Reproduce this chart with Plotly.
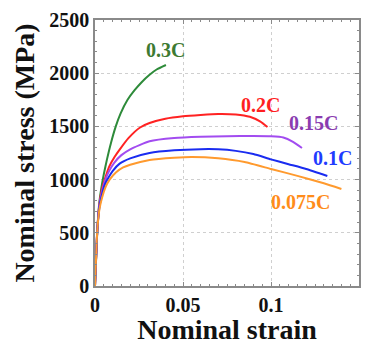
import plotly.graph_objects as go

# ---- data ----
strain_03 = [0, 0.0013, 0.0025, 0.0038, 0.005, 0.0068, 0.009, 0.0118, 0.0145, 0.0185, 0.0225, 0.0265, 0.031, 0.035, 0.0403]
stress_03 = [0, 520, 790, 940, 1050, 1190, 1340, 1500, 1620, 1750, 1840, 1915, 1985, 2035, 2077]

strain_02 = [0, 0.0013, 0.0025, 0.0038, 0.0055, 0.008, 0.011, 0.014, 0.019, 0.0256, 0.031, 0.04, 0.05, 0.06, 0.07, 0.08, 0.088, 0.094, 0.098]
stress_02 = [0, 520, 770, 900, 1000, 1120, 1210, 1282, 1390, 1490, 1532, 1572, 1595, 1608, 1617, 1612, 1590, 1545, 1494]

strain_015 = [0, 0.0013, 0.0025, 0.004, 0.0059, 0.008, 0.011, 0.015, 0.02, 0.031, 0.045, 0.06, 0.075, 0.09, 0.1, 0.107, 0.1125, 0.1176]
stress_015 = [0, 520, 760, 890, 1000, 1080, 1160, 1230, 1285, 1360, 1390, 1402, 1408, 1410, 1407, 1396, 1355, 1297]

strain_01 = [0, 0.0013, 0.0025, 0.004, 0.0055, 0.007, 0.01, 0.014, 0.02, 0.031, 0.045, 0.06, 0.07, 0.08, 0.09, 0.1, 0.11, 0.12, 0.132]
stress_01 = [0, 520, 740, 860, 950, 1000, 1080, 1150, 1200, 1250, 1275, 1286, 1285, 1270, 1240, 1190, 1145, 1100, 1034]

strain_0075 = [0, 0.0013, 0.0025, 0.004, 0.006, 0.0083, 0.012, 0.016, 0.02, 0.031, 0.045, 0.055, 0.07, 0.085, 0.1, 0.115, 0.13, 0.14]
stress_0075 = [0, 520, 720, 830, 930, 1000, 1070, 1115, 1140, 1184, 1205, 1212, 1200, 1165, 1100, 1035, 965, 912]

series_names = ["0.3C", "0.2C", "0.15C", "0.1C", "0.075C"]
line_colors = ["#2e8b3a", "#ff2222", "#a24cf0", "#1a2cf0", "#ff9a2e"]
label_colors = ["#3e7a32", "#ff1f1f", "#8a3cb0", "#1f3cff", "#ff8c1a"]
label_x = [0.0398, 0.0943, 0.1239, 0.1347, 0.117]
label_y = [2218, 1702, 1532, 1203, 789]

x_tickvals = [0, 0.05, 0.1, 0.15]
x_ticktext = ["0", "0.05", "0.1", "0.15"]
y_tickvals = [0, 500, 1000, 1500, 2000, 2500]
y_ticktext = ["0", "500", "1000", "1500", "2000", "2500"]

xs = [strain_03, strain_02, strain_015, strain_01, strain_0075]
ys = [stress_03, stress_02, stress_015, stress_01, stress_0075]

FONT = "Liberation Serif"

fig = go.Figure()
for x, y, name, c in zip(xs, ys, series_names, line_colors):
    fig.add_trace(go.Scatter(x=x, y=y, mode="lines", name=name,
                             line=dict(color=c, width=2, shape="spline", smoothing=0.5),
                             showlegend=False))

for name, lx, ly, c in zip(series_names, label_x, label_y, label_colors):
    fig.add_annotation(x=lx, y=ly, text=name, showarrow=False,
                       font=dict(family=FONT, size=20, color=c, weight="bold"))

axis_common = dict(
    showline=True, linecolor="#8a8a8a", linewidth=1.5, mirror="ticks",
    ticks="inside", ticklen=4, tickcolor="#8a8a8a",
    showgrid=True, gridcolor="#cfcfcf", griddash="dot", gridwidth=1,
    zeroline=False, automargin=False,
    tickfont=dict(family=FONT, size=20, color="#111111", weight="bold"),
)

fig.update_xaxes(range=[0, 0.15], tickvals=x_tickvals, ticktext=x_ticktext,
                 minor=dict(ticks="inside", ticklen=2, dtick=0.005, tickcolor="#8a8a8a", showgrid=False),
                 title=dict(text="Nominal strain", font=dict(family=FONT, size=28, color="#111111", weight="bold"), standoff=9),
                 **axis_common)
fig.update_yaxes(range=[0, 2500], tickvals=y_tickvals, ticktext=y_ticktext,
                 minor=dict(ticks="inside", ticklen=2, dtick=100, tickcolor="#8a8a8a", showgrid=False),
                 title=dict(text="Nominal stress (MPa)", font=dict(family=FONT, size=28, color="#111111", weight="bold"), standoff=6),
                 **axis_common)

# page body adds an 8px offset; compensate so the plot area lands at x 95-359, y 20-286
fig.update_layout(
    width=363, height=337,
    margin=dict(l=87, r=12, t=12, b=59),
    plot_bgcolor="white", paper_bgcolor="white",
)

fig.write_html("out.html")
